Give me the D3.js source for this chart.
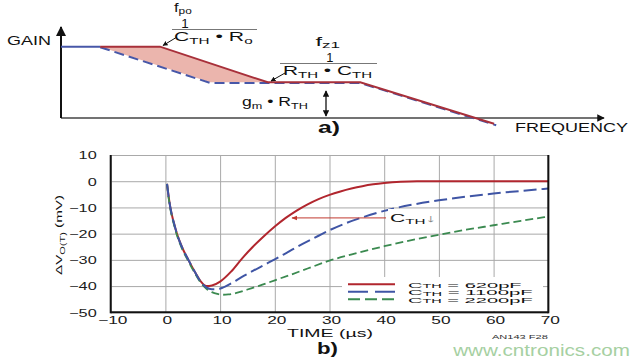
<!DOCTYPE html>
<html><head><meta charset="utf-8">
<script src="https://cdn.jsdelivr.net/npm/d3@7"></script>
<style>body{margin:0;background:#fff}svg{display:block}</style>
</head><body>
<svg id="c" width="640" height="360"></svg>
<script>
// ---------- Panel a (schematic Bode plot) data ----------
const bodeRedFreq  = [0.72, 1.82, 3.8, 5.5, 7.96];
const bodeRedGain  = [8, 8, 4, 4, -0.65];
const bodeBlueFreq = [0, 0.72, 2.74, 3.8, 5.5, 8.0];
const bodeBlueGain = [8, 8, 4, 4, 4, -0.75];

// ---------- Panel b (transient) data ----------
const timeTicks = [-10, 0, 10, 20, 30, 40, 50, 60, 70];
const mvTicks = [-50, -40, -30, -20, -10, 0, 10];
const legendLabels = ["620pF", "1100pF", "2200pF"];
const c620 = [[0.3,-1],[0.6,-6],[0.9,-10],[1.5,-15.5],[2.1,-20],[3,-25],[4.2,-30],[5.5,-35],[6.5,-38.3],[7.5,-40],[8.5,-39.8],[10,-38.3],[12,-34.5],[14,-29.5],[16,-25],[18,-21],[20,-17.3],[22,-14],[24,-11.2],[26,-8.8],[28,-6.8],[30,-5.2],[32,-3.9],[34,-2.8],[36,-1.9],[38,-1.2],[40,-0.7],[43,-0.2],[46,0],[50,0],[60,0],[70,0]];
const c1100 = [[0.3,-1],[0.6,-6],[0.9,-10],[1.5,-15.5],[2.1,-20],[3,-25],[4.2,-30],[5.5,-35],[6.5,-38.5],[7.5,-40.5],[8.5,-41.2],[9.5,-41.2],[10.5,-40.6],[12,-39],[14,-36.5],[16,-34.2],[18,-32],[20,-29.8],[22,-27.5],[25,-24],[28,-20.8],[30,-18.7],[33,-16],[36,-13.8],[40,-11.3],[45,-9],[50,-7.3],[55,-5.9],[60,-4.7],[65,-3.7],[70,-2.8]];
const c2200 = [[0.3,-1],[0.6,-6.5],[0.9,-10.5],[1.5,-16],[2.1,-20.5],[3,-25.5],[4.2,-30.5],[5.5,-35.5],[6.5,-38.8],[7.5,-41],[8.5,-42.3],[9.5,-43],[10.5,-43.3],[11.5,-43.2],[13,-42.6],[15,-41.3],[17,-40],[20,-37.8],[23,-35.6],[26,-33.3],[30,-30.3],[35,-27.4],[40,-24.8],[45,-22.5],[50,-20.4],[55,-18.5],[60,-16.8],[65,-15.1],[70,-13.5]];

const FONT = "'Liberation Sans', Arial, Helvetica, sans-serif";
const svg = d3.select("#c");
svg.append("rect").attr("width",640).attr("height",360).attr("fill","#fff");

const defs = svg.append("defs");
defs.append("marker").attr("id","ah").attr("viewBox","0 0 10 10").attr("refX",9).attr("refY",5)
  .attr("markerWidth",5).attr("markerHeight",5).attr("orient","auto-start-reverse")
  .append("path").attr("d","M0,0L10,5L0,10z").attr("fill","#111");
defs.append("marker").attr("id","ahr").attr("viewBox","0 0 10 10").attr("refX",9).attr("refY",5)
  .attr("markerWidth",6).attr("markerHeight",6).attr("orient","auto")
  .append("path").attr("d","M0,1L10,5L0,9z").attr("fill","#c0392f");

// text that is stretched horizontally to a target width
function fitText(parent, x, y, w, parts, o) {
  const grp = parent.append("g");
  const t = grp.append("text").attr("font-family", FONT).attr("font-size", o.size)
    .attr("font-weight", o.weight || "normal").attr("fill", o.fill || "#111");
  let shift = 0;
  const subOff = o.subOff != null ? o.subOff : 0.32;
  parts.forEach(p => {
    const [str, kind] = typeof p === "string" ? [p, null] : p;
    const ts = t.append("tspan").text(str);
    const target = kind === "sub" ? o.size * subOff : 0;
    ts.attr("dy", target - shift); shift = target;
    if (kind === "sub") ts.attr("font-size", o.size * 0.72);
    if (kind === "gray") ts.attr("fill", "#888");
  });
  const bb = t.node().getBBox();
  const s = w / bb.width;
  const a = o.anchor || "start";
  const ref = a === "start" ? bb.x : a === "end" ? bb.x + bb.width : bb.x + bb.width / 2;
  grp.attr("transform", `translate(${x - ref * s},${y}) scale(${s},1)`);
  return grp;
}

// ================= Panel a =================
const ga = svg.append("g");
const xA = d3.scaleLinear().domain([0, 10]).range([61, 605]);
const yA = d3.scaleLinear().domain([0, 10.2]).range([118, 27]);

const redPts = bodeRedFreq.map((f, i) => [f, bodeRedGain[i]]);
const bluePts = bodeBlueFreq.map((f, i) => [f, bodeBlueGain[i]]);
const lineA = d3.line().x(d => xA(d[0])).y(d => yA(d[1]));

// shaded region between the two responses
const fillPts = [bluePts[1], redPts[1], redPts[2], bluePts[2]];
ga.append("path").attr("d", lineA(fillPts) + "Z").attr("fill", "#ebb5ad");

// axes
ga.append("line").attr("x1", xA(0)).attr("x2", 604).attr("y1", yA(0)).attr("y2", yA(0))
  .attr("stroke", "#444").attr("stroke-width", 1.5).attr("marker-end", "url(#ah)");
ga.append("line").attr("x1", xA(0)).attr("x2", xA(0)).attr("y1", yA(0)).attr("y2", 27)
  .attr("stroke", "#111").attr("stroke-width", 2).attr("marker-end", "url(#ah)");

// blue (dashed) response
ga.append("path").attr("d", lineA(bluePts.slice(0, 2))).attr("fill", "none")
  .attr("stroke", "#4757a8").attr("stroke-width", 2);
ga.append("path").attr("d", lineA(bluePts.slice(1))).attr("fill", "none")
  .attr("stroke", "#4757a8").attr("stroke-width", 2).attr("stroke-dasharray", "10,5")
  .attr("transform", "translate(0,0.6)");
// red response
ga.append("path").attr("d", lineA(redPts)).attr("fill", "none")
  .attr("stroke", "#a8303a").attr("stroke-width", 2);

fitText(ga, 7, 45, 44, ["GAIN"], {size: 12});
fitText(ga, 515, 132, 113, ["FREQUENCY"], {size: 12});
fitText(ga, 318, 133, 22, ["a)"], {size: 16, weight: "bold", fill: "#111"});

// f_po annotation
fitText(ga, 183, 12, 18, ["f", ["po", "sub"]], {size: 12, anchor: "middle", subOff: 0.18});
fitText(ga, 185, 27.5, 7.5, ["1"], {size: 12.5, anchor: "middle"});
ga.append("line").attr("x1", 172).attr("x2", 257).attr("y1", 29.5).attr("y2", 29.5).attr("stroke", "#777");
fitText(ga, 174, 41, 79, ["C", ["TH", "sub"], " \u2022 R", ["o", "sub"]], {size: 12, subOff: 0.22});
ga.append("line").attr("x1", 177).attr("y1", 37).attr("x2", 163).attr("y2", 45.5)
  .attr("stroke", "#111").attr("stroke-width", 1).attr("marker-end", "url(#ah)");

// f_z1 annotation
fitText(ga, 328, 46, 25, ["f", ["z1", "sub"]], {size: 12, anchor: "middle", subOff: 0.18});
fitText(ga, 330, 61.5, 7.5, ["1"], {size: 12, anchor: "middle"});
ga.append("line").attr("x1", 280).attr("x2", 377).attr("y1", 63.5).attr("y2", 63.5).attr("stroke", "#777");
fitText(ga, 283, 75, 89, ["R", ["TH", "sub"], " \u2022 C", ["TH", "sub"]], {size: 12, subOff: 0.22});
ga.append("line").attr("x1", 285).attr("y1", 73).attr("x2", 271).attr("y2", 81)
  .attr("stroke", "#111").attr("stroke-width", 1).attr("marker-end", "url(#ah)");

// gm * RTH annotation
fitText(ga, 242, 106, 66, ["g", ["m", "sub"], " \u2022 R", ["TH", "sub"]], {size: 12, subOff: 0.22});
ga.append("line").attr("x1", 326).attr("x2", 326).attr("y1", 91).attr("y2", 116)
  .attr("stroke", "#111").attr("stroke-width", 1.3)
  .attr("marker-start", "url(#ah)").attr("marker-end", "url(#ah)");

// ================= Panel b =================
const gb = svg.append("g");
const x = d3.scaleLinear().domain([-10, 70]).range([110.7, 548.3]);
const y = d3.scaleLinear().domain([-50, 10]).range([312.3, 155]);

// grid via axes
const gx = gb.append("g").attr("transform", `translate(0,${y(-50)})`)
  .call(d3.axisBottom(x).tickValues(timeTicks).tickSize(-(y(-50) - y(10))).tickPadding(0));
const gy = gb.append("g").attr("transform", `translate(${x(-10)},0)`)
  .call(d3.axisLeft(y).tickValues(mvTicks).tickSize(-(x(70) - x(-10))).tickPadding(0));
[gx, gy].forEach(g => {
  g.select(".domain").remove();
  g.selectAll("line").attr("stroke", "#a9a9a9").attr("stroke-width", 1);
});
gx.selectAll(".tick text").attr("font-family", FONT).attr("font-size", 10.5).attr("fill", "#1a1a1a")
  .attr("y", 0).attr("dy", 0).attr("transform", "translate(1.5,11.5) scale(1.65,1)");
gy.selectAll(".tick text").attr("font-family", FONT).attr("font-size", 10.5).attr("fill", "#1a1a1a")
  .attr("x", 0).attr("dy", "0.36em").attr("transform", "translate(-14,0) scale(1.55,1)");

// curves
const lineB = d3.line().x(d => x(d[0])).y(d => y(d[1])).curve(d3.curveMonotoneX);
const curves = [
  {data: c620, color: "#b1262e", dash: null, w: 2},
  {data: c2200, color: "#3b8a50", dash: "8,4", w: 1.8},
  {data: c1100, color: "#3f55a5", dash: "13,5", w: 2}
];
curves.forEach(c => {
  gb.append("path").attr("d", lineB(c.data)).attr("fill", "none")
    .attr("stroke", c.color).attr("stroke-width", c.w)
    .attr("stroke-dasharray", c.dash);
});

// arrow + C_TH label
gb.append("line").attr("x1", 386).attr("x2", 292).attr("y1", y(-14)).attr("y2", y(-14))
  .attr("stroke", "#c0392f").attr("stroke-width", 1).attr("marker-end", "url(#ahr)");
gb.append("rect").attr("x", 388).attr("y", 209).attr("width", 50).attr("height", 14).attr("fill", "#fff");
fitText(gb, 390, 222, 46, ["C", ["TH", "sub"], ["\u2193", "gray"]], {size: 10.5, subOff: 0.22});

// legend
gb.append("rect").attr("x", 342).attr("y", 277).attr("width", 201).attr("height", 34).attr("fill", "#fff");
const legY = [284.3, 291.7, 299.3];
const legW = [114, 125, 125];
const legStyle = [curves[0], curves[2], curves[1]];
legendLabels.forEach((lab, i) => {
  const st = legStyle[i];
  gb.append("line").attr("x1", 348).attr("x2", 395).attr("y1", legY[i]).attr("y2", legY[i])
    .attr("stroke", st.color).attr("stroke-width", 2)
    .attr("stroke-dasharray", i === 0 ? null : (i === 1 ? "20,7" : "12,5"));
  fitText(gb, 408, legY[i] + 3.2, legW[i], ["C", ["TH", "sub"], " = " + lab], {size: 8, subOff: 0.1});
});

// frame
gb.append("line").attr("x1", x(-10)).attr("x2", x(-10)).attr("y1", y(10)).attr("y2", y(-50) + 1)
  .attr("stroke", "#111").attr("stroke-width", 2);
gb.append("line").attr("x1", x(70)).attr("x2", x(70)).attr("y1", y(10)).attr("y2", y(-50) + 1)
  .attr("stroke", "#111").attr("stroke-width", 2);
gb.append("line").attr("x1", x(-10)).attr("x2", x(70)).attr("y1", y(-50)).attr("y2", y(-50))
  .attr("stroke", "#111").attr("stroke-width", 2);

// axis titles
fitText(gb, 287, 337, 86, ["TIME (\u00b5s)"], {size: 11});
fitText(gb, 317, 354, 21, ["b)"], {size: 16, weight: "bold", fill: "#111"});
const yl = gb.append("g").attr("transform", "translate(62,235) rotate(-90)");
fitText(yl, 0, 0, 80, ["\u0394V", ["O(T)", "sub"], " (mV)"], {size: 9, anchor: "middle"});

// footer marks
fitText(svg, 492, 338.5, 56, ["AN143 F28"], {size: 5.5, fill: "#333"});
fitText(svg, 452, 356, 178, ["www.cntronics.com"], {size: 17, fill: "#a6d0a2"});
</script>
</body></html>
